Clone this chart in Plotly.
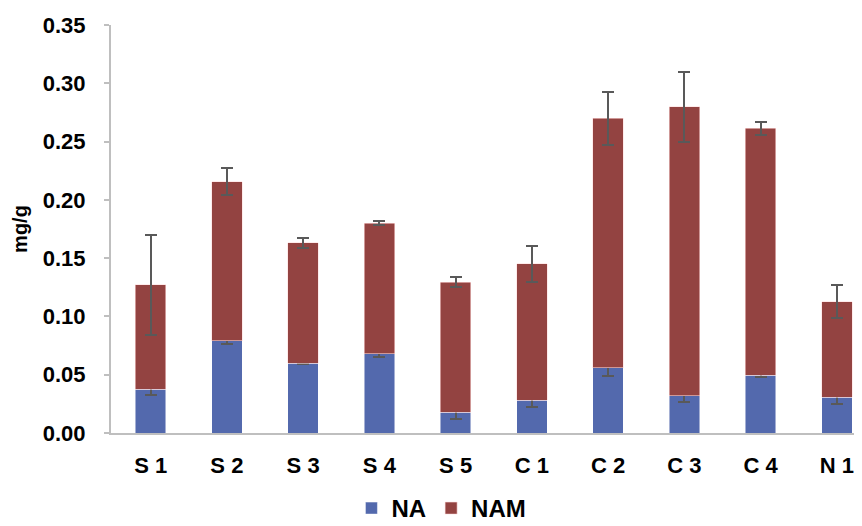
import plotly.graph_objects as go

categories = ["S 1", "S 2", "S 3", "S 4", "S 5", "C 1", "C 2", "C 3", "C 4", "N 1"]
na_values = [0.0375, 0.079, 0.060, 0.068, 0.018, 0.028, 0.056, 0.032, 0.0495, 0.0306]
nam_values = [0.0895, 0.1366, 0.1033, 0.112, 0.1113, 0.117, 0.214, 0.248, 0.2119, 0.0821]
na_errors = [0.005, 0.003, 0.0012, 0.003, 0.006, 0.0055, 0.007, 0.005, 0.0013, 0.0057]
nam_errors = [0.043, 0.0115, 0.0043, 0.0019, 0.0043, 0.0157, 0.0226, 0.030, 0.0057, 0.0142]

FONT = "Liberation Sans, Arial, sans-serif"
err_style = dict(type="data", visible=True, color="#595959", thickness=2, width=6)

fig = go.Figure()
fig.add_trace(go.Bar(
    x=categories, y=na_values, name="NA",
    marker=dict(color="#5369AD", line=dict(color="rgba(255,255,255,0.6)", width=0.8)),
    error_y=dict(array=na_errors, **err_style),
))
fig.add_trace(go.Bar(
    x=categories, y=nam_values, name="NAM",
    marker=dict(color="#934341", line=dict(color="rgba(255,220,220,0.7)", width=0.8)),
    error_y=dict(array=nam_errors, **err_style),
))

fig.update_layout(
    width=854, height=518,
    barmode="stack", bargap=0.6,
    paper_bgcolor="white", plot_bgcolor="white",
    margin=dict(l=103, r=0, t=17, b=93, autoexpand=False),
    font=dict(family=FONT, color="black"),
    legend=dict(
        orientation="h", x=0.44, xanchor="center", y=-0.185, yanchor="middle",
        font=dict(size=24, family=FONT, weight="bold"),
        traceorder="normal", itemwidth=30,
    ),
    showlegend=True,
)
fig.update_xaxes(
    range=[-0.52, 9.33], automargin=False,
    showline=True, linecolor="#BFBFBF", linewidth=2,
    ticks="", showgrid=False,
    tickfont=dict(size=22, family=FONT, weight="bold", color="black"),
    ticklabelstandoff=12,
)
fig.update_yaxes(
    range=[0, 0.35], dtick=0.05, tickformat=".2f", automargin=False,
    showline=True, linecolor="#BFBFBF", linewidth=2,
    ticks="outside", ticklen=5, tickcolor="#BFBFBF", tickwidth=2,
    showgrid=False, zeroline=False,
    tickfont=dict(size=22, family=FONT, weight="bold", color="black"),
    ticklabelstandoff=14,
    title=dict(text="mg/g", font=dict(size=20, family=FONT, weight="bold", color="black"), standoff=10),
)

fig.write_html("out.html")
